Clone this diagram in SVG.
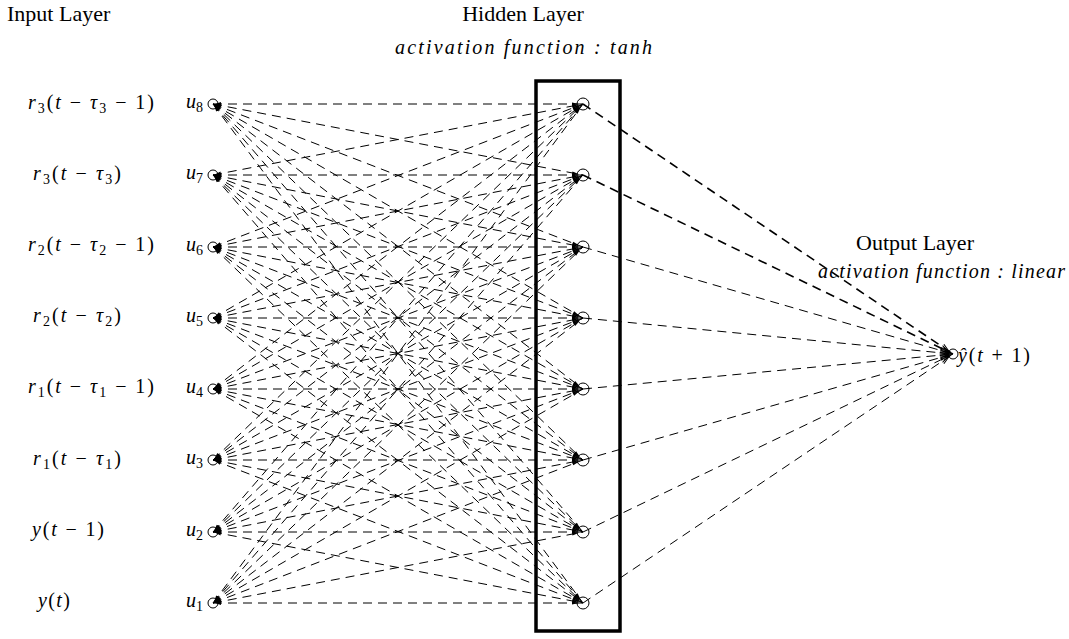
<svg xmlns="http://www.w3.org/2000/svg" width="1069" height="639" viewBox="0 0 1069 639">
<style>
  text { font-family: "Liberation Serif", "Times New Roman", serif; font-size: 20px; fill: #000; }
  .title { font-size: 22px; }
  .i { font-style: italic; }
  .s { font-size: 14px; }
  .c { stroke: #000; stroke-width: 1; stroke-dasharray: 9 6; fill: none; marker-start: url(#ain); marker-end: url(#ahid); }
  .o { stroke: #000; stroke-width: 1; stroke-dasharray: 9 6; fill: none; marker-end: url(#oh); }
  .o.b { stroke-width: 1.6; }
  .n { fill: #fff; stroke: #000; stroke-width: 1; }
</style>
<defs>
  <!-- filled head pointing into an input unit -->
  <marker id="ain" markerUnits="userSpaceOnUse" markerWidth="20" markerHeight="20" refX="8" refY="2" orient="auto-start-reverse" overflow="visible">
    <path d="M0,0 L6,2 L0,4 z" fill="#000"/>
  </marker>
  <!-- slim head pointing into a hidden unit -->
  <marker id="ahid" markerUnits="userSpaceOnUse" markerWidth="20" markerHeight="20" refX="11" refY="1.5" orient="auto" overflow="visible">
    <path d="M0,0 L7,1.5 L0,3 z" fill="#000"/>
  </marker>
  <!-- open head at the output unit -->
  <marker id="oh" markerUnits="userSpaceOnUse" markerWidth="20" markerHeight="20" refX="13" refY="3" orient="auto" overflow="visible">
    <path d="M0,0 L8,3 L0,6" fill="none" stroke="#000" stroke-width="1"/>
  </marker>
</defs>
<rect width="1069" height="639" fill="#fff"/>

<!-- layer headings -->
<text class="title" x="7" y="21">Input Layer</text>
<text class="title" x="523" y="21" text-anchor="middle">Hidden Layer</text>
<text class="i" x="395" y="54" textLength="257">activation function : tanh</text>
<text class="title" x="915" y="250" text-anchor="middle">Output Layer</text>
<text class="i" x="818" y="278" textLength="247">activation function : linear</text>

<!-- units are drawn first so that the arrowheads sit over their outlines -->
<g id="input-u8">
  <text x="28" y="109" textLength="126"><tspan class="i">r</tspan><tspan class="s" dy="4">3</tspan><tspan dy="-4">(</tspan><tspan class="i">t</tspan> − <tspan class="i">τ</tspan><tspan class="s" dy="4">3</tspan><tspan dy="-4"> − 1)</tspan></text>
  <text x="186" y="108"><tspan class="i">u</tspan><tspan class="s" dy="4">8</tspan></text>
  <circle class="n" cx="213" cy="104" r="5"/>
</g>
<g id="input-u7">
  <text x="33" y="180" textLength="88"><tspan class="i">r</tspan><tspan class="s" dy="4">3</tspan><tspan dy="-4">(</tspan><tspan class="i">t</tspan> − <tspan class="i">τ</tspan><tspan class="s" dy="4">3</tspan><tspan dy="-4">)</tspan></text>
  <text x="186" y="179"><tspan class="i">u</tspan><tspan class="s" dy="4">7</tspan></text>
  <circle class="n" cx="213" cy="175" r="5"/>
</g>
<g id="input-u6">
  <text x="28" y="251" textLength="126"><tspan class="i">r</tspan><tspan class="s" dy="4">2</tspan><tspan dy="-4">(</tspan><tspan class="i">t</tspan> − <tspan class="i">τ</tspan><tspan class="s" dy="4">2</tspan><tspan dy="-4"> − 1)</tspan></text>
  <text x="186" y="251"><tspan class="i">u</tspan><tspan class="s" dy="4">6</tspan></text>
  <circle class="n" cx="213" cy="247" r="5"/>
</g>
<g id="input-u5">
  <text x="33" y="322" textLength="88"><tspan class="i">r</tspan><tspan class="s" dy="4">2</tspan><tspan dy="-4">(</tspan><tspan class="i">t</tspan> − <tspan class="i">τ</tspan><tspan class="s" dy="4">2</tspan><tspan dy="-4">)</tspan></text>
  <text x="186" y="322"><tspan class="i">u</tspan><tspan class="s" dy="4">5</tspan></text>
  <circle class="n" cx="213" cy="318" r="5"/>
</g>
<g id="input-u4">
  <text x="28" y="393" textLength="126"><tspan class="i">r</tspan><tspan class="s" dy="4">1</tspan><tspan dy="-4">(</tspan><tspan class="i">t</tspan> − <tspan class="i">τ</tspan><tspan class="s" dy="4">1</tspan><tspan dy="-4"> − 1)</tspan></text>
  <text x="186" y="393"><tspan class="i">u</tspan><tspan class="s" dy="4">4</tspan></text>
  <circle class="n" cx="213" cy="389" r="5"/>
</g>
<g id="input-u3">
  <text x="33" y="465" textLength="88"><tspan class="i">r</tspan><tspan class="s" dy="4">1</tspan><tspan dy="-4">(</tspan><tspan class="i">t</tspan> − <tspan class="i">τ</tspan><tspan class="s" dy="4">1</tspan><tspan dy="-4">)</tspan></text>
  <text x="186" y="464"><tspan class="i">u</tspan><tspan class="s" dy="4">3</tspan></text>
  <circle class="n" cx="213" cy="460" r="5"/>
</g>
<g id="input-u2">
  <text x="32" y="536" textLength="72"><tspan class="i">y</tspan>(<tspan class="i">t</tspan> − 1)</text>
  <text x="186" y="536"><tspan class="i">u</tspan><tspan class="s" dy="4">2</tspan></text>
  <circle class="n" cx="213" cy="532" r="5"/>
</g>
<g id="input-u1">
  <text x="38" y="607" textLength="32"><tspan class="i">y</tspan>(<tspan class="i">t</tspan>)</text>
  <text x="186" y="607"><tspan class="i">u</tspan><tspan class="s" dy="4">1</tspan></text>
  <circle class="n" cx="213" cy="603" r="5"/>
</g>

<g id="hidden-1"><circle class="n" cx="583" cy="104" r="6"/></g>
<g id="hidden-2"><circle class="n" cx="583" cy="175" r="6"/></g>
<g id="hidden-3"><circle class="n" cx="583" cy="247" r="6"/></g>
<g id="hidden-4"><circle class="n" cx="583" cy="318" r="6"/></g>
<g id="hidden-5"><circle class="n" cx="583" cy="389" r="6"/></g>
<g id="hidden-6"><circle class="n" cx="583" cy="460" r="6"/></g>
<g id="hidden-7"><circle class="n" cx="583" cy="532" r="6"/></g>
<g id="hidden-8"><circle class="n" cx="583" cy="603" r="6"/></g>

<g id="output">
  <circle class="n" cx="953" cy="354" r="5"/>
  <text x="958" y="362" textLength="72"><tspan class="i">ŷ</tspan>(<tspan class="i">t</tspan> + 1)</text>
</g>

<!-- hidden layer frame -->
<rect id="hidden-frame" x="536" y="81" width="84" height="550" fill="none" stroke="#000" stroke-width="3.5"/>

<!-- connectors: every input to every hidden unit, every hidden unit to the output -->
<g id="connectors">
  <line class="c" x1="213" y1="104" x2="583" y2="104"/>
  <line class="c" x1="213" y1="104" x2="583" y2="175"/>
  <line class="c" x1="213" y1="104" x2="583" y2="247"/>
  <line class="c" x1="213" y1="104" x2="583" y2="318"/>
  <line class="c" x1="213" y1="104" x2="583" y2="389"/>
  <line class="c" x1="213" y1="104" x2="583" y2="460"/>
  <line class="c" x1="213" y1="104" x2="583" y2="532"/>
  <line class="c" x1="213" y1="104" x2="583" y2="603"/>

  <line class="c" x1="213" y1="175" x2="583" y2="104"/>
  <line class="c" x1="213" y1="175" x2="583" y2="175"/>
  <line class="c" x1="213" y1="175" x2="583" y2="247"/>
  <line class="c" x1="213" y1="175" x2="583" y2="318"/>
  <line class="c" x1="213" y1="175" x2="583" y2="389"/>
  <line class="c" x1="213" y1="175" x2="583" y2="460"/>
  <line class="c" x1="213" y1="175" x2="583" y2="532"/>
  <line class="c" x1="213" y1="175" x2="583" y2="603"/>

  <line class="c" x1="213" y1="247" x2="583" y2="104"/>
  <line class="c" x1="213" y1="247" x2="583" y2="175"/>
  <line class="c" x1="213" y1="247" x2="583" y2="247"/>
  <line class="c" x1="213" y1="247" x2="583" y2="318"/>
  <line class="c" x1="213" y1="247" x2="583" y2="389"/>
  <line class="c" x1="213" y1="247" x2="583" y2="460"/>
  <line class="c" x1="213" y1="247" x2="583" y2="532"/>
  <line class="c" x1="213" y1="247" x2="583" y2="603"/>

  <line class="c" x1="213" y1="318" x2="583" y2="104"/>
  <line class="c" x1="213" y1="318" x2="583" y2="175"/>
  <line class="c" x1="213" y1="318" x2="583" y2="247"/>
  <line class="c" x1="213" y1="318" x2="583" y2="318"/>
  <line class="c" x1="213" y1="318" x2="583" y2="389"/>
  <line class="c" x1="213" y1="318" x2="583" y2="460"/>
  <line class="c" x1="213" y1="318" x2="583" y2="532"/>
  <line class="c" x1="213" y1="318" x2="583" y2="603"/>

  <line class="c" x1="213" y1="389" x2="583" y2="104"/>
  <line class="c" x1="213" y1="389" x2="583" y2="175"/>
  <line class="c" x1="213" y1="389" x2="583" y2="247"/>
  <line class="c" x1="213" y1="389" x2="583" y2="318"/>
  <line class="c" x1="213" y1="389" x2="583" y2="389"/>
  <line class="c" x1="213" y1="389" x2="583" y2="460"/>
  <line class="c" x1="213" y1="389" x2="583" y2="532"/>
  <line class="c" x1="213" y1="389" x2="583" y2="603"/>

  <line class="c" x1="213" y1="460" x2="583" y2="104"/>
  <line class="c" x1="213" y1="460" x2="583" y2="175"/>
  <line class="c" x1="213" y1="460" x2="583" y2="247"/>
  <line class="c" x1="213" y1="460" x2="583" y2="318"/>
  <line class="c" x1="213" y1="460" x2="583" y2="389"/>
  <line class="c" x1="213" y1="460" x2="583" y2="460"/>
  <line class="c" x1="213" y1="460" x2="583" y2="532"/>
  <line class="c" x1="213" y1="460" x2="583" y2="603"/>

  <line class="c" x1="213" y1="532" x2="583" y2="104"/>
  <line class="c" x1="213" y1="532" x2="583" y2="175"/>
  <line class="c" x1="213" y1="532" x2="583" y2="247"/>
  <line class="c" x1="213" y1="532" x2="583" y2="318"/>
  <line class="c" x1="213" y1="532" x2="583" y2="389"/>
  <line class="c" x1="213" y1="532" x2="583" y2="460"/>
  <line class="c" x1="213" y1="532" x2="583" y2="532"/>
  <line class="c" x1="213" y1="532" x2="583" y2="603"/>

  <line class="c" x1="213" y1="603" x2="583" y2="104"/>
  <line class="c" x1="213" y1="603" x2="583" y2="175"/>
  <line class="c" x1="213" y1="603" x2="583" y2="247"/>
  <line class="c" x1="213" y1="603" x2="583" y2="318"/>
  <line class="c" x1="213" y1="603" x2="583" y2="389"/>
  <line class="c" x1="213" y1="603" x2="583" y2="460"/>
  <line class="c" x1="213" y1="603" x2="583" y2="532"/>
  <line class="c" x1="213" y1="603" x2="583" y2="603"/>

  <line class="o b" x1="583" y1="104" x2="953" y2="354"/>
  <line class="o b" x1="583" y1="175" x2="953" y2="354"/>
  <line class="o" x1="583" y1="247" x2="953" y2="354"/>
  <line class="o" x1="583" y1="318" x2="953" y2="354"/>
  <line class="o" x1="583" y1="389" x2="953" y2="354"/>
  <line class="o" x1="583" y1="460" x2="953" y2="354"/>
  <line class="o" x1="583" y1="532" x2="953" y2="354"/>
  <line class="o" x1="583" y1="603" x2="953" y2="354"/>
</g>
</svg>
